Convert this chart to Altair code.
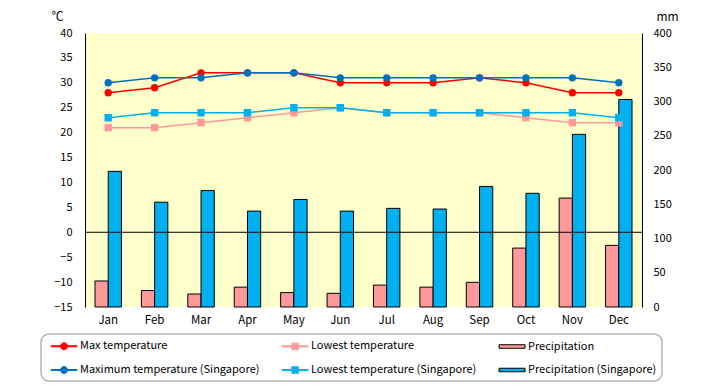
import altair as alt
import pandas as pd

months = ["Jan", "Feb", "Mar", "Apr", "May", "Jun", "Jul", "Aug", "Sep", "Oct", "Nov", "Dec"]
max_temp = [28, 29, 32, 32, 32, 30, 30, 30, 31, 30, 28, 28]
low_temp = [21, 21, 22, 23, 24, 25, 24, 24, 24, 23, 22, 22]
max_temp_sg = [30, 31, 31, 32, 32, 31, 31, 31, 31, 31, 31, 30]
low_temp_sg = [23, 24, 24, 24, 25, 25, 24, 24, 24, 24, 24, 23]
precip = [38, 24, 19, 29, 21, 20, 32, 29, 36, 86, 159, 90]
precip_sg = [198, 153, 170, 140, 157, 140, 144, 143, 176, 166, 252, 303]

# legend order (column by column)
series_names = [
    "Max temperature",
    "Maximum temperature (Singapore)",
    "Lowest temperature",
    "Lowest temperature (Singapore)",
    "Precipitation",
    "Precipitation (Singapore)",
]
fill_colors = ["#FF0000", "#0070C0", "#FF9999", "#00B0F0", "#FF9999", "#00B0F0"]
stroke_colors = ["#FF0000", "#0070C0", "#FF9999", "#00B0F0", "#000000", "#000000"]

# legend glyphs: a short line with a marker, or a flat bar swatch
LINE_CIRCLE = ("M-0.3,-0.08H1.2V0.08H-0.3Z M2.2,-0.08H3.7V0.08H2.2Z "
               "M2.24,0L2.168,0.27L1.97,0.468L1.7,0.54L1.43,0.468L1.232,0.27L1.16,0"
               "L1.232,-0.27L1.43,-0.468L1.7,-0.54L1.97,-0.468L2.168,-0.27Z")
LINE_SQUARE = ("M-0.3,-0.08H1.2V0.08H-0.3Z M2.2,-0.08H3.7V0.08H2.2Z "
               "M1.2,-0.5H2.2V0.5H1.2Z")
RECT = "M-0.3,-0.27H3.7V0.27H-0.3Z"
legend_shapes = [LINE_CIRCLE, LINE_CIRCLE, LINE_SQUARE, LINE_SQUARE, RECT, RECT]

FONT = "Noto Sans CJK JP"

temp_rows = []
for name, vals in [
    ("Max temperature", max_temp),
    ("Lowest temperature", low_temp),
    ("Maximum temperature (Singapore)", max_temp_sg),
    ("Lowest temperature (Singapore)", low_temp_sg),
]:
    for m, v in zip(months, vals):
        temp_rows.append({"month": m, "series": name, "value": v})
temp_df = pd.DataFrame(temp_rows)

precip_rows = []
for name, vals in [("Precipitation", precip), ("Precipitation (Singapore)", precip_sg)]:
    for m, v in zip(months, vals):
        precip_rows.append({"month": m, "series": name, "value": v})
precip_df = pd.DataFrame(precip_rows)

zero_df = pd.DataFrame({"value": [0]})
legend_df = pd.DataFrame({"series": series_names})

fill_scale = alt.Scale(domain=series_names, range=fill_colors)
stroke_scale = alt.Scale(domain=series_names, range=stroke_colors)
shape_scale = alt.Scale(domain=series_names, range=legend_shapes)
leg = alt.Legend(
    title=None,
    labelExpr="datum.label == 'Precipitation (Singapore)' ? datum.label + '\u2003\u2003' : datum.label",
)

x_enc = alt.X(
    "month:N",
    sort=months,
    scale=alt.Scale(paddingInner=0.43, paddingOuter=0.215),
    axis=alt.Axis(title=None, labelAngle=0, domain=False, ticks=False, labelPadding=7,
                  labelFontSize=11.5, labelFont=FONT, labelColor="black"),
)

y_temp = alt.Y(
    "value:Q",
    scale=alt.Scale(domain=[-15, 40], nice=False, zero=False),
    axis=alt.Axis(
        orient="left", values=list(range(-15, 41, 5)), title="℃", titleAngle=0,
        titleX=-28, titleY=-17, titleAlign="center", titleBaseline="middle",
        titleFont=FONT, titleFontSize=12, titleFontWeight="normal", titleColor="black",
        grid=False, ticks=False, tickSize=0, labelPadding=13, labelFontSize=11,
        labelFont=FONT, labelColor="black", domainColor="black", domainWidth=1,
    ),
)

y_prec = alt.Y(
    "value:Q",
    scale=alt.Scale(domain=[0, 400], nice=False),
    axis=alt.Axis(
        orient="right", values=list(range(0, 401, 50)), title="mm", titleAngle=0,
        titleX=25, titleY=-17, titleAlign="center", titleBaseline="middle",
        titleFont=FONT, titleFontSize=12, titleFontWeight="normal", titleColor="black",
        grid=False, ticks=False, tickSize=0, labelPadding=11, labelFontSize=11,
        labelFont=FONT, labelColor="black", domainColor="black", domainWidth=1,
    ),
)

bars = alt.Chart(precip_df).mark_bar(strokeWidth=1).encode(
    x=x_enc,
    xOffset=alt.XOffset("series:N", sort=["Precipitation", "Precipitation (Singapore)"],
                        scale=alt.Scale(domain=["Precipitation", "Precipitation (Singapore)"],
                                        paddingInner=0, paddingOuter=0)),
    y=y_prec,
    fill=alt.Fill("series:N", scale=fill_scale, legend=leg),
    stroke=alt.Stroke("series:N", scale=stroke_scale, legend=leg),
)

zero_rule = alt.Chart(zero_df).mark_rule(color="black", strokeWidth=1).encode(y=y_temp)

lines = alt.Chart(temp_df).mark_line(strokeWidth=1.5).encode(
    x=x_enc,
    y=y_temp,
    stroke=alt.Stroke("series:N", scale=stroke_scale, legend=leg),
)

circles = alt.Chart(temp_df).transform_filter(
    alt.FieldOneOfPredicate(field="series", oneOf=["Max temperature", "Maximum temperature (Singapore)"])
).mark_point(filled=True, shape="circle", size=55, opacity=1).encode(
    x=x_enc,
    y=y_temp,
    fill=alt.Fill("series:N", scale=fill_scale, legend=leg),
)

squares = alt.Chart(temp_df).transform_filter(
    alt.FieldOneOfPredicate(field="series", oneOf=["Lowest temperature", "Lowest temperature (Singapore)"])
).mark_point(filled=True, shape="square", size=55, opacity=1).encode(
    x=x_enc,
    y=y_temp,
    fill=alt.Fill("series:N", scale=fill_scale, legend=leg),
)

temp_group = alt.layer(zero_rule, lines, circles, squares)

legend_layer = alt.Chart(legend_df).transform_filter("false").mark_point(
    filled=True, size=169, opacity=1, strokeWidth=1
).encode(
    shape=alt.Shape("series:N", scale=shape_scale, legend=leg),
    fill=alt.Fill("series:N", scale=fill_scale, legend=leg),
    stroke=alt.Stroke("series:N", scale=stroke_scale, legend=leg),
)

chart = alt.layer(bars, temp_group, legend_layer).resolve_scale(
    y="independent"
).properties(
    width=557,
    height=274,
    autosize=alt.AutoSizeParams(type="none"),
    padding={"left": 77, "top": 25, "right": 70, "bottom": 78},
    background="white",
    view=alt.ViewBackground(fill="#FFFFCC", strokeWidth=0),
).configure_legend(
    orient="none", legendX=-44, legendY=301, columns=3,
    symbolSize=169, symbolStrokeWidth=1, labelFontSize=11, labelFont=FONT,
    labelColor="black", labelOffset=20, rowPadding=11, columnPadding=17, padding=5,
    strokeColor="#B4B4B4", strokeWidth=1.5, cornerRadius=8, fillColor="white", labelLimit=400,
)

chart.save("out.html", embed_options={"renderer": "svg", "actions": False})
